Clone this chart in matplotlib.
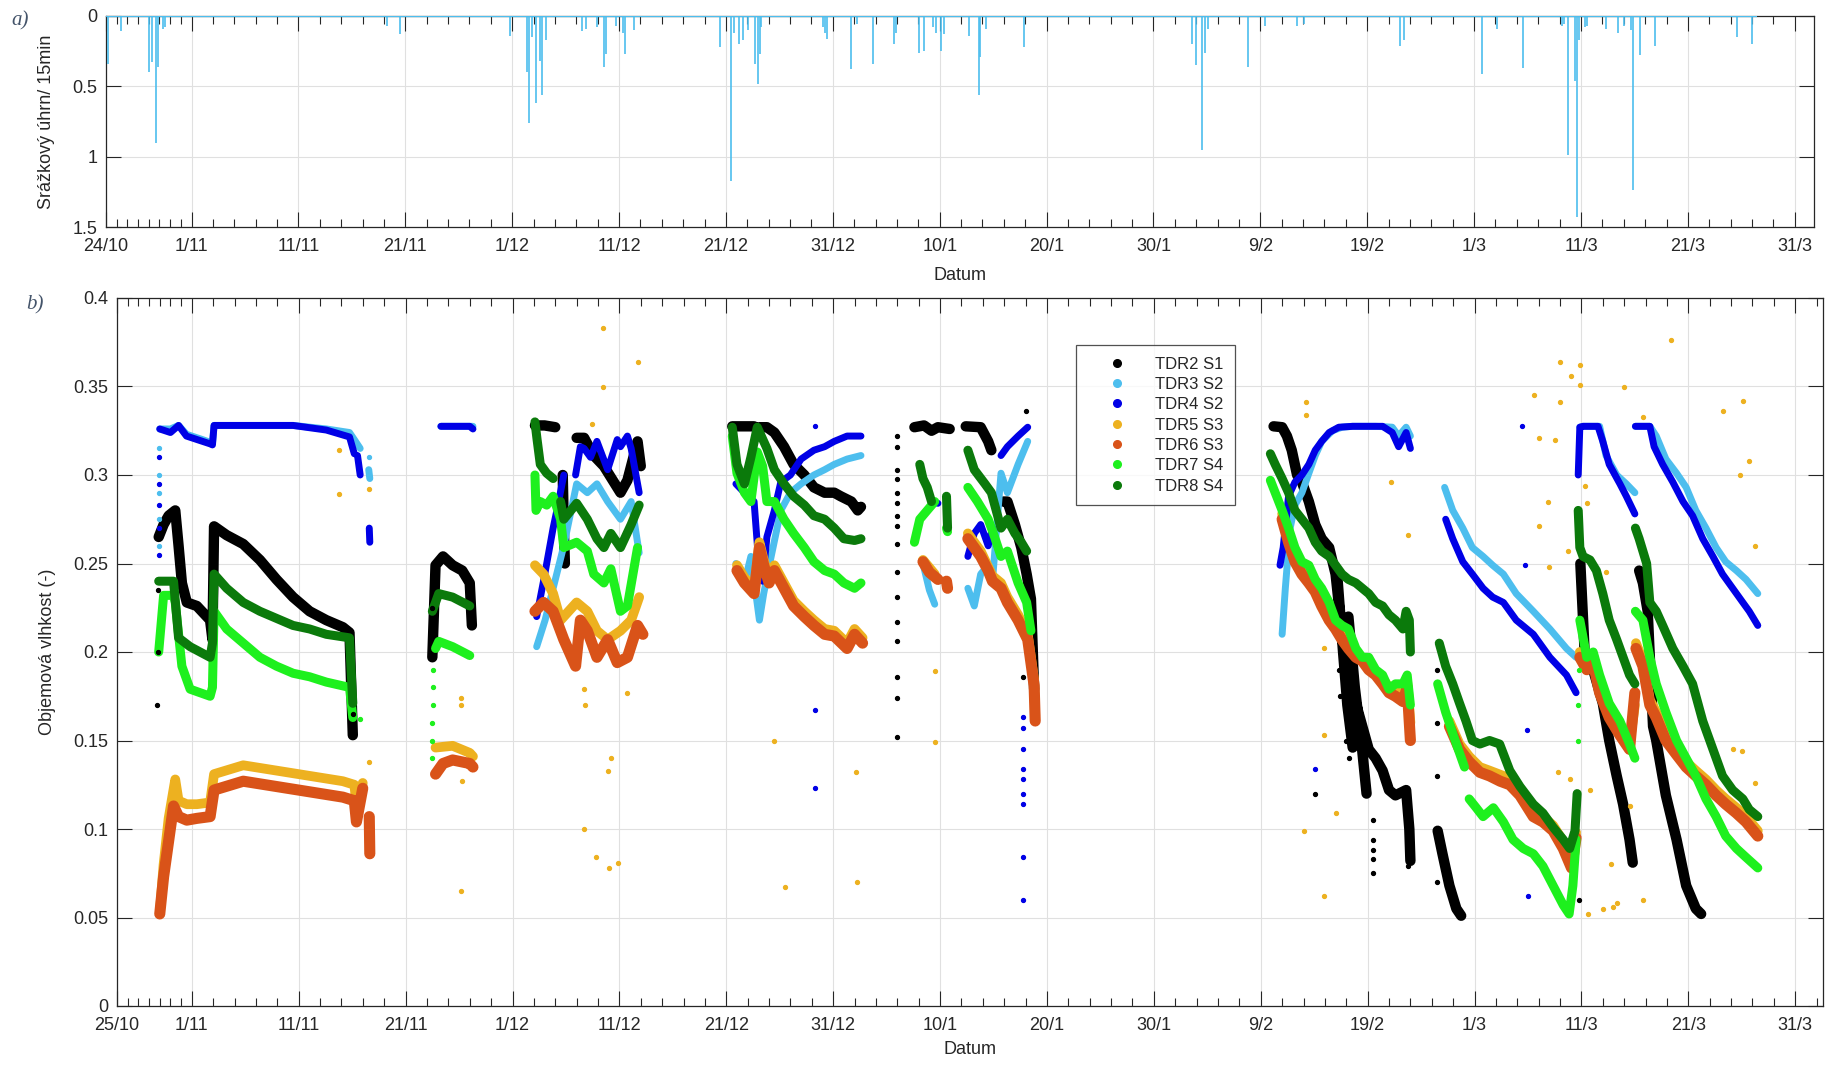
from datetime import datetime

import numpy as np
import matplotlib
matplotlib.use("Agg")
import matplotlib.pyplot as plt
import matplotlib.dates as mdates
from matplotlib.lines import Line2D
from matplotlib.ticker import FixedLocator, FuncFormatter

plt.rcParams["font.family"] = ["Liberation Sans", "DejaVu Sans"]

GAP = None  # break in a measured series
# all times are days counted from 1/11 (2014)

# --- precipitation, mm per 15 min: (day, depth) ---
rain_events = [
    (-7.8, 0.34), (-6.6, 0.11), (-4.0, 0.40), (-3.7, 0.33), (-3.33, 0.90), (-3.1, 0.36),
    (-2.7, 0.09), (-2.5, 0.08), (18.25, 0.07), (19.5, 0.13), (29.8, 0.14),
    (31.4, 0.40), (31.6, 0.76), (31.9, 0.15), (32.2, 0.62), (32.65, 0.32), (32.8, 0.56),
    (33.2, 0.17), (36.5, 0.11), (36.9, 0.09), (37.9, 0.08), (38.6, 0.36), (38.8, 0.27),
    (39.7, 0.07), (40.4, 0.12), (40.6, 0.27), (41.4, 0.10),
    (49.4, 0.22), (50.5, 1.17), (50.8, 0.12), (51.2, 0.20), (51.6, 0.17), (52.1, 0.10),
    (52.7, 0.34), (53.0, 0.48), (53.2, 0.27), (53.3, 0.08),
    (59.1, 0.08), (59.3, 0.12), (59.5, 0.16), (61.7, 0.38), (62.3, 0.06), (63.8, 0.34),
    (65.7, 0.20), (65.9, 0.12), (68.1, 0.26), (68.5, 0.25), (69.4, 0.08), (69.7, 0.12),
    (70.1, 0.25), (70.4, 0.13), (72.7, 0.14), (73.7, 0.56), (73.8, 0.29), (74.3, 0.09),
    (77.9, 0.22), (93.6, 0.20), (94.0, 0.35), (94.5, 0.95), (94.85, 0.26), (95.1, 0.09),
    (98.8, 0.36), (100.4, 0.07), (103.4, 0.07), (104.1, 0.06), (113.1, 0.21), (113.4, 0.17),
    (120.7, 0.41), (122.1, 0.09), (124.6, 0.37), (128.2, 0.07), (128.4, 0.06), (128.8, 0.99),
    (129.4, 0.46), (129.6, 1.43), (129.8, 0.17), (130.4, 0.08), (130.6, 0.07), (132.3, 0.09),
    (133.5, 0.12), (134.0, 0.07), (134.7, 0.10), (134.9, 1.24), (135.5, 0.28), (136.9, 0.21),
    (144.6, 0.15), (146.0, 0.20),
]
rain_start, rain_end = -8.0, 146.5

# --- volumetric water content (-): (day, value) ---
tdr2 = [
    (-3.1, 0.265), (-2.64, 0.272), (-2.17, 0.277), (-1.55, 0.28), (-1.24, 0.26),
    (-0.93, 0.239), (-0.47, 0.228), (0.47, 0.226), (1.71, 0.218), (1.93, 0.207), (2.08, 0.271),
    (3.26, 0.266), (4.81, 0.261), (6.37, 0.252), (7.92, 0.241), (9.47, 0.231), (11.02, 0.223),
    (12.58, 0.218), (14.13, 0.214), (14.75, 0.211), (15.06, 0.153), GAP,
    (22.5, 0.197), (22.8, 0.249), (23.5, 0.254), (24.4, 0.249), (25.3, 0.246), (26.0, 0.239),
    (26.2, 0.215), GAP,
    (32.1, 0.328), (33.0, 0.328), (34.0, 0.327), GAP, (34.7, 0.30), (34.8, 0.27), (34.9, 0.25), GAP,
    (36.0, 0.321), (36.7, 0.321), (37.6, 0.311), (38.55, 0.305), (40.1, 0.29), (40.75, 0.297),
    (41.7, 0.319), (42.0, 0.305), GAP,
    (50.56, 0.3275), (52.6, 0.3275), GAP,
    (53.1, 0.327), (53.8, 0.327), (54.5, 0.324), (55.4, 0.316), (56.3, 0.306), (57.3, 0.30),
    (58.2, 0.293), (59.2, 0.29), (60.1, 0.29), (60.7, 0.288), (61.7, 0.285), (62.3, 0.28),
    (62.6, 0.282), GAP,
    (67.6, 0.327), (68.5, 0.328), (69.2, 0.325), (69.8, 0.327), (70.9, 0.326), GAP,
    (72.4, 0.3275), (73.8, 0.327), (74.5, 0.319), (74.8, 0.314), GAP,
    (75.9, 0.285), (76.3, 0.285), (77.0, 0.272), (77.6, 0.259), (78.1, 0.244), (78.5, 0.23),
    (78.8, 0.179), GAP,
    (101.2, 0.3275), (102.0, 0.327), (102.45, 0.322), (102.9, 0.314), (103.4, 0.30),
    (103.85, 0.296), (104.5, 0.285), (105.1, 0.272), (105.7, 0.264), (106.4, 0.259),
    (107.0, 0.244), (107.6, 0.21), (108.2, 0.179), (108.9, 0.171), (109.5, 0.158),
    (110.1, 0.145), (110.75, 0.14), (111.4, 0.133), (112.0, 0.122), (112.6, 0.119),
    (113.6, 0.122), (113.9, 0.10), (114.0, 0.082), GAP,
    (107.2, 0.24), (107.7, 0.20), (108.1, 0.17), (108.6, 0.146), GAP,
    (108.2, 0.22), (108.8, 0.18), (109.4, 0.15), (109.9, 0.12), GAP,
    (116.55, 0.099), (117.0, 0.086), (117.65, 0.068), (118.3, 0.055), (118.75, 0.051), GAP,
    (129.9, 0.25), (130.3, 0.20), (131.1, 0.19), (132.0, 0.171), (132.6, 0.15), (133.3, 0.13),
    (133.9, 0.114), (134.5, 0.094), (134.8, 0.081), GAP,
    (135.4, 0.246), (135.75, 0.239), (136.2, 0.223), (136.7, 0.158), (137.0, 0.15),
    (137.9, 0.119), (138.9, 0.094), (139.8, 0.068), (140.7, 0.055), (141.2, 0.052),
]

tdr3 = [
    (-3.0, 0.326), (-2.0, 0.326), (-1.24, 0.328), (-0.5, 0.323), (1.0, 0.32),
    (1.93, 0.318), (2.08, 0.328), (9.5, 0.328), (12.6, 0.326), (14.75, 0.324), (15.2, 0.32),
    (15.75, 0.315), GAP, (16.55, 0.303), (16.65, 0.298), GAP,
    (23.3, 0.3275), (26.3, 0.3275), GAP,
    (32.26, 0.203), (33.05, 0.218), (33.8, 0.236), (34.8, 0.26), (36.0, 0.295), (37.0, 0.29),
    (37.9, 0.295), (38.9, 0.285), (40.1, 0.275), (41.1, 0.285), (41.85, 0.256), GAP,
    (50.9, 0.25), (51.7, 0.239), (52.3, 0.254), (53.1, 0.218), (53.5, 0.233), (54.2, 0.254),
    (55.1, 0.28), (56.0, 0.29), (57.0, 0.295), (58.2, 0.30), (59.2, 0.303), (60.1, 0.306),
    (61.3, 0.309), (62.6, 0.311), GAP,
    (68.4, 0.25), (69.0, 0.235), (69.5, 0.227), GAP,
    (72.6, 0.236), (73.2, 0.226), (73.8, 0.244), (74.5, 0.249), (74.9, 0.24), (75.7, 0.301),
    (76.3, 0.29), (77.3, 0.306), (78.2, 0.319), GAP,
    (102.0, 0.21), (102.3, 0.236), (102.75, 0.27), (103.2, 0.283), (103.85, 0.29),
    (104.5, 0.301), (105.1, 0.311), (105.7, 0.319), (106.7, 0.325), (107.6, 0.327),
    (108.6, 0.3275), (110.75, 0.3275), (112.3, 0.327), (112.9, 0.322), (113.6, 0.327),
    (114.0, 0.322), GAP,
    (117.2, 0.293), (117.96, 0.28), (118.9, 0.27), (119.8, 0.259), (120.8, 0.254),
    (121.7, 0.249), (122.7, 0.244), (123.9, 0.233), (125.5, 0.223), (127.05, 0.213),
    (128.6, 0.202), (129.5, 0.197), GAP,
    (129.85, 0.327), (130.15, 0.3275), (131.7, 0.3275), (132.3, 0.311), (133.3, 0.30),
    (134.2, 0.295), (135.0, 0.29), GAP,
    (135.05, 0.3275), (136.4, 0.3275), (137.0, 0.322), (137.9, 0.309), (138.9, 0.301),
    (139.8, 0.293), (140.7, 0.28), (141.65, 0.27), (142.6, 0.259), (143.5, 0.251),
    (144.5, 0.246), (145.4, 0.241), (146.5, 0.233),
]

tdr4 = [
    (-3.0, 0.326), (-2.0, 0.324), (-1.24, 0.328), (-0.5, 0.322), (0.5, 0.32),
    (1.71, 0.3176), (1.93, 0.317), (2.08, 0.328), (9.47, 0.328), (12.58, 0.3254),
    (14.75, 0.3215), (15.2, 0.312), GAP, (15.5, 0.311), (15.75, 0.30), GAP,
    (16.6, 0.27), (16.65, 0.262), GAP,
    (23.3, 0.3275), (26.0, 0.3275), (26.3, 0.326), GAP,
    (32.26, 0.22), (32.9, 0.24), (33.8, 0.27), (34.15, 0.28), (34.8, 0.30), GAP,
    (35.9, 0.30), (36.35, 0.316), (36.7, 0.315), (37.3, 0.31), (37.9, 0.319), (38.9, 0.303),
    (39.8, 0.32), (40.1, 0.316), (40.75, 0.322), (41.1, 0.315), (41.85, 0.29), GAP,
    (50.9, 0.295), (51.7, 0.29), (52.6, 0.285), (53.1, 0.245), (53.4, 0.24), (53.8, 0.265),
    (54.5, 0.28), (55.1, 0.296), (56.0, 0.30), (57.0, 0.309), (58.2, 0.314), (59.2, 0.316),
    (60.1, 0.319), (61.3, 0.322), (62.6, 0.322), GAP,
    (69.2, 0.285), (69.8, 0.284), GAP,
    (72.6, 0.254), (73.2, 0.267), (73.8, 0.272), (74.5, 0.26), (74.9, 0.27), GAP,
    (75.7, 0.311), (76.3, 0.316), (77.3, 0.322), (78.2, 0.327), GAP,
    (101.8, 0.249), (102.1, 0.259), (102.6, 0.288), (103.2, 0.296), (103.85, 0.30),
    (104.5, 0.306), (105.1, 0.314), (105.7, 0.319), (106.4, 0.324), (107.3, 0.327),
    (108.6, 0.3275), (110.1, 0.3275), (111.4, 0.3275), (112.3, 0.324), (112.9, 0.316),
    (113.6, 0.324), (114.0, 0.315), GAP,
    (117.3, 0.275), (117.96, 0.264), (118.9, 0.251), (119.8, 0.244), (120.8, 0.236),
    (121.7, 0.231), (122.7, 0.228), (123.9, 0.218), (125.5, 0.21), (127.05, 0.197),
    (128.6, 0.187), (129.5, 0.177), GAP,
    (129.7, 0.30), (129.85, 0.327), (130.15, 0.3275), (131.55, 0.3275), (132.0, 0.319),
    (132.6, 0.306), (133.6, 0.295), (134.2, 0.288), (135.0, 0.278), GAP,
    (135.05, 0.3275), (136.4, 0.3275), (136.8, 0.316), (137.6, 0.306), (138.55, 0.296),
    (139.5, 0.285), (140.4, 0.277), (141.35, 0.264), (142.3, 0.254), (143.2, 0.244),
    (144.15, 0.236), (145.1, 0.228), (145.7, 0.223), (146.5, 0.215),
]

tdr5 = [
    (-3.0, 0.052), (-2.64, 0.08), (-2.17, 0.106), (-1.55, 0.128), (-1.24, 0.116), (-0.47, 0.114),
    (0.47, 0.114), (1.71, 0.115), (2.08, 0.131), (4.81, 0.136), (7.92, 0.133), (11.02, 0.130),
    (14.13, 0.127), (15.2, 0.125), (15.5, 0.109), (15.99, 0.126), GAP,
    (22.8, 0.146), (24.4, 0.147), (26.0, 0.143), (26.3, 0.141), GAP,
    (32.1, 0.249), (32.9, 0.244), (33.8, 0.233), (34.5, 0.218), (36.0, 0.228), (37.0, 0.223),
    (37.9, 0.212), (38.9, 0.207), (40.1, 0.212), (41.1, 0.218), (41.85, 0.231), GAP,
    (51.0, 0.249), (51.7, 0.242), (52.6, 0.236), (53.1, 0.262), (53.5, 0.252), (54.0, 0.242),
    (54.5, 0.249), (55.4, 0.239), (56.3, 0.229), (57.3, 0.223), (58.2, 0.218), (59.2, 0.213),
    (60.1, 0.212), (61.3, 0.205), (62.0, 0.213), (62.75, 0.208), GAP,
    (68.4, 0.252), (69.5, 0.244), GAP,
    (72.6, 0.267), (73.8, 0.257), (74.9, 0.243), (75.7, 0.239), (76.3, 0.231), (77.3, 0.221),
    (78.2, 0.21), (78.8, 0.184), (78.9, 0.164), GAP,
    (102.0, 0.278), (102.6, 0.265), (103.2, 0.254), (103.85, 0.247), (104.5, 0.242),
    (105.7, 0.229), (106.4, 0.221), (107.0, 0.216), (107.6, 0.21), (108.9, 0.20),
    (110.1, 0.193), (111.4, 0.185), (112.0, 0.18), (112.6, 0.178), (113.3, 0.175),
    (113.7, 0.183), (114.0, 0.16), GAP,
    (117.65, 0.161), (118.6, 0.148), (119.5, 0.141), (120.5, 0.135), (121.4, 0.133),
    (122.7, 0.13), (123.6, 0.126), (124.55, 0.12), (125.5, 0.11), (126.4, 0.107),
    (127.35, 0.102), (128.3, 0.093), (129.07, 0.082), (129.5, 0.098), GAP,
    (129.85, 0.20), (130.5, 0.193), (131.1, 0.198), (131.7, 0.18), (132.6, 0.166),
    (133.6, 0.156), (134.5, 0.148), (135.0, 0.17), GAP,
    (135.1, 0.205), (135.75, 0.195), (136.4, 0.173), (137.0, 0.166), (137.9, 0.153),
    (138.9, 0.145), (139.8, 0.138), (140.7, 0.133), (141.65, 0.128), (142.6, 0.122),
    (143.5, 0.117), (144.5, 0.112), (145.4, 0.107), (146.5, 0.099),
]

tdr6 = [
    (-3.0, 0.052), (-2.64, 0.073), (-2.17, 0.093), (-1.71, 0.113), (-1.24, 0.107),
    (-0.47, 0.105), (0.47, 0.106), (1.71, 0.107), (2.08, 0.122), (4.81, 0.127), (7.92, 0.124),
    (11.02, 0.121), (14.13, 0.118), (15.2, 0.116), (15.4, 0.104), (15.99, 0.123), GAP,
    (16.6, 0.107), (16.65, 0.086), GAP,
    (22.8, 0.131), (23.5, 0.137), (24.4, 0.139), (26.0, 0.137), (26.3, 0.135), GAP,
    (32.1, 0.223), (32.9, 0.228), (33.8, 0.223), (34.8, 0.207), (35.9, 0.192), (36.35, 0.218),
    (37.0, 0.212), (37.9, 0.197), (38.9, 0.207), (39.8, 0.194), (40.75, 0.197), (41.7, 0.215),
    (42.2, 0.21), GAP,
    (51.0, 0.246), (51.7, 0.239), (52.6, 0.233), (53.1, 0.259), (53.5, 0.249), (54.0, 0.239),
    (54.5, 0.246), (55.4, 0.236), (56.3, 0.226), (57.3, 0.22), (58.2, 0.215), (59.2, 0.21),
    (60.1, 0.209), (61.3, 0.202), (62.0, 0.21), (62.75, 0.205), GAP,
    (68.4, 0.251), (69.0, 0.245), (69.8, 0.241), GAP, (70.6, 0.24), (70.7, 0.236), GAP,
    (72.6, 0.264), (73.2, 0.259), (73.8, 0.254), (74.5, 0.246), (74.9, 0.24), (75.7, 0.236),
    (76.3, 0.228), (77.3, 0.218), (78.2, 0.207), (78.8, 0.181), (78.9, 0.161), GAP,
    (102.0, 0.275), (102.6, 0.262), (103.2, 0.251), (103.85, 0.244), (104.5, 0.239),
    (105.1, 0.234), (105.7, 0.226), (106.4, 0.218), (107.0, 0.213), (107.6, 0.207),
    (108.2, 0.202), (108.9, 0.197), (109.5, 0.195), (110.1, 0.19), (110.75, 0.187),
    (111.4, 0.182), (112.0, 0.177), (112.6, 0.175), (113.3, 0.172), (113.7, 0.18),
    (114.0, 0.15), GAP,
    (117.65, 0.158), (118.6, 0.145), (119.5, 0.138), (120.5, 0.132), (121.4, 0.13),
    (122.4, 0.127), (123.3, 0.125), (124.25, 0.119), (125.5, 0.107), (126.4, 0.104),
    (127.35, 0.099), (128.3, 0.089), (129.07, 0.078), (129.5, 0.095), GAP,
    (129.85, 0.197), (130.5, 0.19), (131.1, 0.194), (131.7, 0.177), (132.6, 0.163),
    (133.6, 0.153), (134.5, 0.145), (135.0, 0.177), GAP,
    (135.1, 0.202), (135.75, 0.192), (136.4, 0.17), (137.0, 0.163), (137.9, 0.15),
    (138.9, 0.142), (139.8, 0.135), (140.7, 0.13), (141.65, 0.125), (142.6, 0.119),
    (143.5, 0.114), (144.5, 0.109), (145.4, 0.104), (146.5, 0.096),
]

tdr7 = [
    (-3.1, 0.20), (-2.64, 0.232), (-1.71, 0.232), (-1.55, 0.228), (-0.93, 0.192), (-0.16, 0.179),
    (1.71, 0.175), (1.93, 0.18), (2.08, 0.223), (3.26, 0.213), (4.81, 0.205), (6.37, 0.197),
    (7.92, 0.192), (9.47, 0.188), (11.02, 0.186), (12.58, 0.183), (14.75, 0.18), (15.06, 0.163),
    GAP,
    (22.8, 0.202), (23.1, 0.206), (24.4, 0.203), (26.0, 0.198), GAP,
    (32.1, 0.30), (32.2, 0.28), (32.6, 0.285), (33.2, 0.283), (33.8, 0.288), (34.5, 0.275),
    (34.8, 0.259), (36.0, 0.262), (37.0, 0.257), (37.6, 0.244), (38.55, 0.239), (39.2, 0.247),
    (40.1, 0.223), (40.75, 0.226), (41.7, 0.259), GAP,
    (50.56, 0.322), (51.0, 0.301), (51.7, 0.29), (52.3, 0.285), (52.9, 0.313), (53.4, 0.305),
    (53.8, 0.285), (54.5, 0.285), (55.4, 0.275), (56.3, 0.267), (57.3, 0.259), (58.2, 0.251),
    (59.2, 0.246), (60.1, 0.244), (61.0, 0.239), (62.0, 0.236), (62.6, 0.239), GAP,
    (67.6, 0.262), (68.1, 0.275), (68.8, 0.28), (69.5, 0.285), GAP, (70.6, 0.27), (70.7, 0.268),
    GAP,
    (72.6, 0.293), (73.5, 0.285), (74.5, 0.275), (75.1, 0.265), (75.7, 0.254), (76.3, 0.257),
    (77.3, 0.239), (78.1, 0.228), (78.5, 0.212), GAP,
    (100.9, 0.297), (101.35, 0.29), (102.0, 0.28), (102.6, 0.27), (103.2, 0.259),
    (103.85, 0.251), (104.5, 0.249), (105.1, 0.241), (105.7, 0.236), (106.4, 0.228),
    (107.0, 0.218), (107.6, 0.215), (108.2, 0.213), (108.9, 0.202), (109.5, 0.197),
    (110.1, 0.197), (110.75, 0.19), (111.4, 0.187), (112.0, 0.179), (112.6, 0.182),
    (113.3, 0.182), (113.7, 0.187), (114.0, 0.17), GAP,
    (116.55, 0.182), (117.3, 0.166), (118.3, 0.148), (119.06, 0.135), GAP,
    (119.5, 0.117), (120.16, 0.112), (120.8, 0.107), (121.76, 0.112), (122.7, 0.104),
    (123.6, 0.094), (124.55, 0.089), (125.5, 0.086), (126.4, 0.079), (127.35, 0.068),
    (128.3, 0.057), (128.85, 0.052), (129.2, 0.068), (129.5, 0.094), GAP,
    (129.85, 0.218), (130.5, 0.197), (131.1, 0.20), (131.7, 0.187), (132.6, 0.171),
    (133.6, 0.161), (134.5, 0.148), (135.0, 0.14), GAP,
    (135.05, 0.223), (135.75, 0.218), (136.4, 0.197), (137.0, 0.182), (137.9, 0.166),
    (138.9, 0.15), (139.8, 0.14), (140.7, 0.13), (141.65, 0.117), (142.6, 0.107),
    (143.5, 0.096), (144.5, 0.089), (145.4, 0.084), (146.5, 0.078),
]

tdr8 = [
    (-3.1, 0.24), (-1.71, 0.24), (-1.24, 0.208), (-0.16, 0.203), (1.71, 0.197), (1.93, 0.205),
    (2.08, 0.244), (3.26, 0.236), (4.81, 0.228), (6.37, 0.223), (7.92, 0.219), (9.47, 0.215),
    (11.02, 0.213), (12.58, 0.21), (14.75, 0.208), (15.06, 0.171), GAP,
    (22.5, 0.223), (23.1, 0.233), (24.4, 0.231), (26.0, 0.226), GAP,
    (32.1, 0.33), (32.3, 0.32), (32.6, 0.306), (33.2, 0.301), (33.8, 0.298), GAP,
    (34.5, 0.285), (34.8, 0.275), (36.0, 0.284), (37.0, 0.275), (37.9, 0.264), (38.55, 0.259),
    (39.2, 0.267), (40.1, 0.259), (41.1, 0.272), (41.85, 0.283), GAP,
    (50.56, 0.327), (51.0, 0.306), (51.7, 0.295), (52.3, 0.31), (52.9, 0.327), (53.8, 0.315),
    (54.5, 0.303), (55.4, 0.295), (56.3, 0.288), (57.3, 0.283), (58.2, 0.277), (59.2, 0.275),
    (60.1, 0.27), (61.0, 0.264), (62.0, 0.263), (62.6, 0.264), GAP,
    (68.1, 0.306), (68.4, 0.298), (68.8, 0.293), (69.2, 0.285), GAP, (70.6, 0.288), (70.7, 0.27),
    GAP,
    (72.6, 0.314), (73.2, 0.303), (74.2, 0.295), (74.8, 0.29), (75.7, 0.27), (76.3, 0.275),
    (77.0, 0.267), (77.6, 0.262), (78.1, 0.257), GAP,
    (100.9, 0.312), (101.35, 0.306), (102.0, 0.298), (102.6, 0.29), (103.2, 0.28),
    (103.85, 0.275), (104.5, 0.27), (105.1, 0.262), (105.7, 0.257), (106.4, 0.254),
    (107.0, 0.249), (107.6, 0.244), (108.2, 0.241), (108.9, 0.239), (109.5, 0.236),
    (110.1, 0.233), (110.75, 0.228), (111.4, 0.226), (112.0, 0.221), (112.6, 0.218),
    (113.3, 0.213), (113.6, 0.223), (113.9, 0.218), (114.0, 0.20), GAP,
    (116.7, 0.205), (117.3, 0.192), (117.96, 0.182), (118.6, 0.171), (119.2, 0.161),
    (119.8, 0.15), (120.5, 0.148), (121.4, 0.15), (122.35, 0.148), (123.3, 0.133),
    (124.25, 0.124), (125.5, 0.114), (126.4, 0.109), (127.35, 0.101), (128.3, 0.094),
    (128.9, 0.089), (129.4, 0.099), (129.6, 0.12), GAP,
    (129.7, 0.28), (129.85, 0.259), (130.15, 0.254), (130.8, 0.252), (131.4, 0.246),
    (132.0, 0.233), (132.6, 0.218), (133.3, 0.207), (133.9, 0.197), (134.5, 0.187),
    (135.0, 0.182), GAP,
    (135.05, 0.27), (135.4, 0.264), (136.1, 0.25), (136.4, 0.228), (137.0, 0.223),
    (137.6, 0.215), (138.55, 0.202), (139.5, 0.192), (140.4, 0.182), (141.35, 0.161),
    (142.3, 0.145), (143.2, 0.13), (144.15, 0.122), (145.1, 0.117), (145.7, 0.111),
    (146.5, 0.107),
]

# isolated readings away from the main traces
stray_tdr2 = [
    (-3.26, 0.17), (-3.2, 0.20), (-3.15, 0.235), (15.1, 0.165), (22.5, 0.21), (22.5, 0.225),
    (66.0, 0.322), (66.0, 0.316), (66.0, 0.303), (66.0, 0.298), (66.0, 0.29), (66.0, 0.284),
    (66.0, 0.277), (66.0, 0.271), (66.0, 0.261), (66.0, 0.245), (66.0, 0.231), (66.0, 0.217),
    (66.0, 0.206), (66.0, 0.186), (66.0, 0.174), (66.0, 0.152), (77.75, 0.186), (78.0, 0.336),
    (105.1, 0.12), (107.3, 0.19), (107.4, 0.175), (108.0, 0.15), (108.3, 0.14),
    (110.5, 0.105), (110.5, 0.094), (110.5, 0.088), (110.5, 0.083), (110.5, 0.075),
    (113.8, 0.10), (113.8, 0.092), (113.8, 0.085), (113.8, 0.079),
    (116.5, 0.19), (116.5, 0.16), (116.5, 0.13), (116.5, 0.07), (129.8, 0.06),
]
stray_tdr3 = [
    (-3.1, 0.26), (-3.1, 0.275), (-3.1, 0.29), (-3.1, 0.30), (-3.1, 0.315), (16.6, 0.31),
]
stray_tdr4 = [
    (-3.1, 0.255), (-3.1, 0.27), (-3.1, 0.283), (-3.1, 0.295), (-3.1, 0.31),
    (58.3, 0.3275), (58.3, 0.167), (58.3, 0.123), (77.75, 0.163), (77.8, 0.157), (77.8, 0.145),
    (77.8, 0.134), (77.8, 0.128), (77.8, 0.12), (77.8, 0.114), (77.8, 0.084), (77.8, 0.06),
    (124.45, 0.3275), (124.7, 0.249), (124.9, 0.156), (125.0, 0.062), (105.1, 0.134),
]
stray_tdr5 = [
    (13.8, 0.314), (13.8, 0.289), (16.6, 0.292), (16.6, 0.138),
    (25.2, 0.065), (25.2, 0.174), (25.2, 0.17), (25.3, 0.127), (38.5, 0.383), (41.7, 0.364),
    (38.45, 0.35), (37.45, 0.329), (36.7, 0.179), (36.8, 0.17), (39.2, 0.14), (38.9, 0.133),
    (36.7, 0.10), (37.8, 0.084), (39.0, 0.078), (39.9, 0.081), (40.7, 0.177),
    (54.5, 0.15), (55.5, 0.067), (62.1, 0.132), (62.2, 0.07), (69.5, 0.189), (69.5, 0.149),
    (104.2, 0.341), (104.2, 0.334), (112.2, 0.296), (113.8, 0.266), (105.9, 0.202),
    (105.9, 0.153), (107.0, 0.109), (104.0, 0.099), (105.9, 0.062),
    (138.4, 0.376), (128.0, 0.364), (129.85, 0.362), (129.07, 0.356), (129.85, 0.351),
    (125.55, 0.345), (128.0, 0.341), (134.0, 0.35), (145.1, 0.342), (143.2, 0.336),
    (145.7, 0.308), (144.8, 0.30), (146.2, 0.26), (126.9, 0.285), (126.0, 0.271),
    (127.0, 0.248), (130.5, 0.284), (130.3, 0.294), (135.75, 0.333), (126.0, 0.321),
    (127.5, 0.32), (128.75, 0.257), (132.3, 0.245), (133.0, 0.056), (133.3, 0.058),
    (135.75, 0.06), (130.6, 0.052), (132.0, 0.055), (134.5, 0.113), (132.8, 0.08),
    (130.8, 0.122), (128.9, 0.128), (144.15, 0.145), (145.0, 0.144), (146.2, 0.126),
    (127.8, 0.132),
]
stray_tdr7 = [
    (22.5, 0.14), (22.5, 0.15), (22.5, 0.16), (22.55, 0.17), (22.6, 0.18), (22.6, 0.19),
    (15.75, 0.162), (129.7, 0.15), (129.7, 0.17), (129.75, 0.19),
]

labels = ["TDR2 S1", "TDR3 S2", "TDR4 S2", "TDR5 S3", "TDR6 S3", "TDR7 S4", "TDR8 S4"]
colors = ["#000000", "#4DBEEE", "#0000E6", "#EDB120", "#D95319", "#1EF01E", "#0B7A0B"]
widths = [7.5, 5, 5, 7, 8, 6.5, 6.5]
RAIN_COLOR = "#4DBEEE"
TEXT = "#262626"

BASE = mdates.date2num(datetime(2014, 11, 1))


def to_xy(pairs):
    x = np.array([np.nan if p is None else BASE + p[0] for p in pairs])
    y = np.array([np.nan if p is None else p[1] for p in pairs])
    return x, y


def day_label(x, pos):
    d = mdates.num2date(x)
    return f"{d.day}/{d.month}"


def style_axis(ax, first_day, xmax):
    ax.set_xlim(BASE + first_day, BASE + xmax)
    majors = [first_day] + list(range(0, 151, 10))
    minors = [d for d in range(-7, 0) if d != first_day] + [d for d in range(2, 153, 2) if d % 10]
    ax.xaxis.set_major_locator(FixedLocator([BASE + d for d in majors]))
    ax.xaxis.set_minor_locator(FixedLocator([BASE + d for d in minors]))
    ax.xaxis.set_major_formatter(FuncFormatter(day_label))
    ax.yaxis.set_major_formatter(FuncFormatter(lambda v, p: f"{v:g}"))
    ax.tick_params(which="both", direction="in", top=True, right=True, colors=TEXT,
                   labelsize=13, width=0.8)
    ax.tick_params(which="major", length=11)
    ax.tick_params(which="minor", length=5.5)
    ax.tick_params(axis="x", pad=8)
    ax.tick_params(axis="y", pad=6)
    ax.grid(True, which="major", color="#E0E0E0", lw=0.8)
    ax.set_axisbelow(True)
    for s in ax.spines.values():
        s.set_color(TEXT)
        s.set_linewidth(0.9)


W, H = 1827, 1065
fig = plt.figure(figsize=(W / 100, H / 100), dpi=100)

# a) precipitation
ax1 = fig.add_axes([106 / W, 1 - 227 / H, 1708 / W, 211 / H])
rx, ry = to_xy(rain_events)
ax1.vlines(rx, 0, ry, color=RAIN_COLOR, lw=1.2, zorder=3)
ax1.hlines(0, BASE + rain_start, BASE + rain_end, color=RAIN_COLOR, lw=1.6, zorder=3)
ax1.set_ylim(1.5, 0)
ax1.set_yticks([0, 0.5, 1, 1.5])
style_axis(ax1, -8, 151.8)
ax1.set_ylabel("Srážkový úhrn/ 15min", fontsize=13, color=TEXT)
ax1.yaxis.set_label_coords(-0.030, 0.5)
ax1.set_xlabel("Datum", fontsize=13, color=TEXT)
ax1.xaxis.set_label_coords(0.5, -0.19)

# b) volumetric water content
ax2 = fig.add_axes([117 / W, 1 - 1006 / H, 1706 / W, 708 / H])
for pairs, color, lw in zip([tdr2, tdr3, tdr4, tdr5, tdr6, tdr7, tdr8], colors, widths):
    x, y = to_xy(pairs)
    ax2.plot(x, y, color=color, lw=lw, solid_capstyle="round", solid_joinstyle="round", zorder=3)
strays = [(stray_tdr2, colors[0]), (stray_tdr3, colors[1]), (stray_tdr4, colors[2]),
          (stray_tdr5, colors[3]), (stray_tdr7, colors[5])]
for pairs, color in strays:
    x, y = to_xy(pairs)
    ax2.plot(x, y, "o", ms=2.8, color=color, zorder=4)
ax2.set_ylim(0, 0.4)
ax2.set_yticks(np.arange(0, 0.401, 0.05))
style_axis(ax2, -7, 152.6)
ax2.set_ylabel("Objemová vlhkost (-)", fontsize=13, color=TEXT)
ax2.yaxis.set_label_coords(-0.036, 0.5)
ax2.set_xlabel("Datum", fontsize=13, color=TEXT)
ax2.xaxis.set_label_coords(0.5, -0.05)

handles = [Line2D([], [], ls="", marker="o", ms=5.5, color=c) for c in colors]
leg = ax2.legend(handles, labels, loc="upper left", bbox_to_anchor=(0.5575, 0.9455),
                 fontsize=12, frameon=True, fancybox=False, borderpad=0.7,
                 labelspacing=0.32, handlelength=3.5, handletextpad=0.5)
leg.get_frame().set_edgecolor(TEXT)
leg.get_frame().set_linewidth(0.9)
for t in leg.get_texts():
    t.set_color(TEXT)

for txt, (px, py) in [("a)", (20, 21)), ("b)", (35, 305))]:
    fig.text(px / W, 1 - py / H, txt, fontsize=15, style="italic", family="Liberation Serif",
             color="#44546A", ha="center", va="center")

fig.savefig("out.png", dpi=100)
